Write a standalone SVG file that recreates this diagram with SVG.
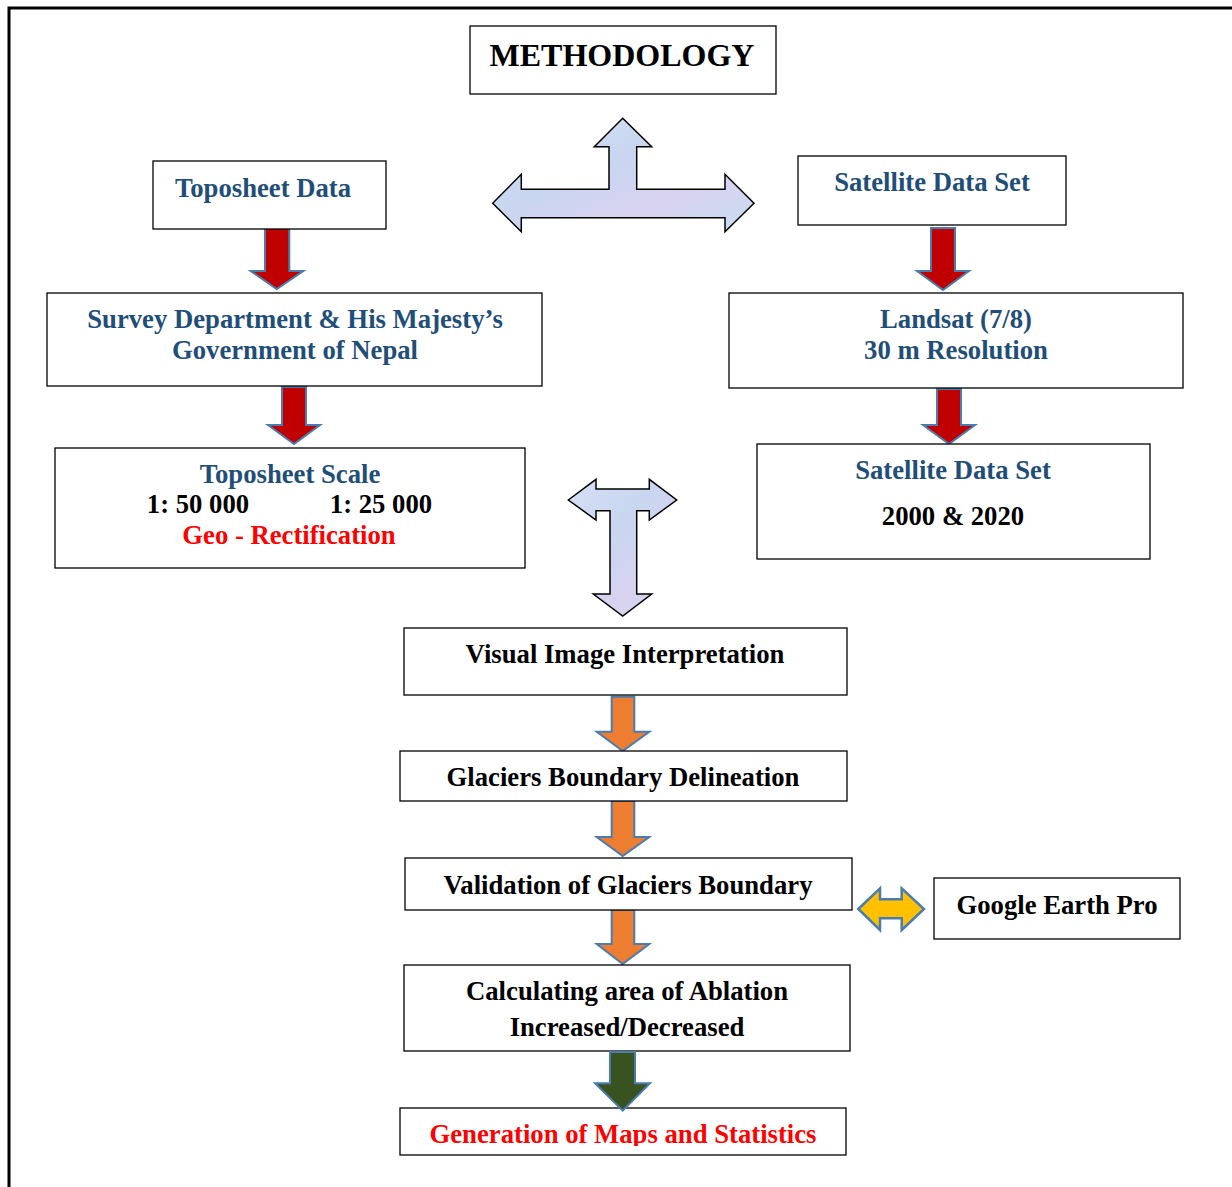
<svg xmlns="http://www.w3.org/2000/svg" width="1232" height="1187" viewBox="0 0 1232 1187">
<defs>
<style>
.box{fill:#fff;stroke:#000;stroke-width:1.3}
.t{font-family:"Liberation Serif","Times New Roman",serif;font-weight:bold;font-size:26.7px;text-anchor:middle}
.blue{fill:#1F4E79}
.blk{fill:#000}
.red{fill:#FF0000}
.la{stroke:#000;stroke-width:1.5;fill:url(#lg)}
.ra{fill:#C00000;stroke:#4A7CB0;stroke-width:2}
.oa{fill:#ED7D31;stroke:#4A7CB0;stroke-width:2}
.ya{fill:#FFC000;stroke:#4A7CB0;stroke-width:2.5}
.ga{fill:#3A5220;stroke:#4A7CB0;stroke-width:2}
</style>
<linearGradient id="lg" x1="0" y1="0" x2="1" y2="1">
<stop offset="0" stop-color="#D6E0F5"/>
<stop offset="0.4" stop-color="#C8D6F0"/>
<stop offset="0.7" stop-color="#D8D2F0"/>
<stop offset="1" stop-color="#C6DDF2"/>
</linearGradient>
<clipPath id="genclip"><rect x="400" y="1108" width="446" height="38"/></clipPath>
</defs>
<rect width="1232" height="1187" fill="#fff"/>
<path d="M9 1187 V8 H1232" fill="none" stroke="#000" stroke-width="3"/>

<g id="connectors">
<path class="la" d="M622.7 118.3 L651.7 146.7 L636.7 146.7 L636.7 189.3 L725 189.3 L725 174.3 L754 203.3 L725 231.7 L725 217.7 L521.3 217.7 L521.3 231.7 L492.7 203.3 L521.3 174.3 L521.3 189.3 L609 189.3 L609 146.7 L594.3 146.7 Z"/>
<path class="la" d="M568.3 500 L596 479.3 L596 489 L649.3 489 L649.3 479.3 L676.7 500 L649.3 520 L649.3 510.7 L636.7 510.7 L636.7 594 L651.7 594 L622.7 616 L593.3 594 L610 594 L610 510.7 L596 510.7 L596 520 Z"/>
<path class="ra" d="M265 228.3 L289.3 228.3 L289.3 271 L303.3 271 L276.7 289 L250.7 271 L265 271 Z"/>
<path class="ra" d="M282 387 L306 387 L306 425 L320 425 L294 444 L268 425 L282 425 Z"/>
<path class="ra" d="M931 228 L955 228 L955 271 L969 271 L943 290 L917 271 L931 271 Z"/>
<path class="ra" d="M937 389 L961 389 L961 425 L975 425 L949 444 L923 425 L937 425 Z"/>
<path class="oa" d="M611.7 696.7 L634.3 696.7 L634.3 731.7 L649.3 731.7 L622.7 751 L596.7 731.7 L611.7 731.7 Z"/>
<path class="oa" d="M611.7 801 L634.3 801 L634.3 837 L649.3 837 L622.7 856 L596.7 837 L611.7 837 Z"/>
<path class="oa" d="M611.7 910 L634.3 910 L634.3 944 L649.3 944 L622.7 964 L596.7 944 L611.7 944 Z"/>
<path class="ya" d="M858.3 909 L880 888.3 L880 899.3 L901.7 899.3 L901.7 888.3 L924 909 L901.7 930 L901.7 918.3 L880 918.3 L880 930 Z"/>
</g>

<g id="methodology"><rect class="box" x="470" y="26" width="306" height="68"/><text class="t blk" x="622" y="66" style="font-size:32px">METHODOLOGY</text></g>
<g id="toposheet-data"><rect class="box" x="153" y="161" width="233" height="68"/><text class="t blue" x="263" y="197">Toposheet Data</text></g>
<g id="satellite-data-set"><rect class="box" x="798" y="156" width="268" height="69"/><text class="t blue" x="932" y="191">Satellite Data Set</text></g>
<g id="survey"><rect class="box" x="47" y="293" width="495" height="93"/><text class="t blue" x="295" y="328">Survey Department &amp; His Majesty’s</text><text class="t blue" x="295" y="359">Government of Nepal</text></g>
<g id="landsat"><rect class="box" x="729" y="293" width="454" height="95"/><text class="t blue" x="956" y="328">Landsat (7/8)</text><text class="t blue" x="956" y="359">30 m Resolution</text></g>
<g id="toposheet-scale"><rect class="box" x="55" y="448" width="470" height="120"/><text class="t blue" x="290" y="483">Toposheet Scale</text><text class="t blk" x="198" y="513">1: 50 000</text><text class="t blk" x="381" y="513">1: 25 000</text><text class="t red" x="289" y="544">Geo - Rectification</text></g>
<g id="satellite-years"><rect class="box" x="757" y="444" width="393" height="115"/><text class="t blue" x="953" y="479">Satellite Data Set</text><text class="t blk" x="953" y="525">2000 &amp; 2020</text></g>
<g id="visual"><rect class="box" x="404" y="628" width="443" height="67"/><text class="t blk" x="625" y="663">Visual Image Interpretation</text></g>
<g id="delineation"><rect class="box" x="400" y="751" width="447" height="50"/><text class="t blk" x="623" y="786">Glaciers Boundary Delineation</text></g>
<g id="validation"><rect class="box" x="405" y="858" width="447" height="52"/><text class="t blk" x="628" y="894">Validation of Glaciers Boundary</text></g>
<g id="google-earth"><rect class="box" x="934" y="878" width="246" height="61"/><text class="t blk" x="1057" y="914">Google Earth Pro</text></g>
<g id="calculating"><rect class="box" x="404" y="965" width="446" height="86"/><text class="t blk" x="627" y="1000">Calculating area of Ablation</text><text class="t blk" x="627" y="1036">Increased/Decreased</text></g>
<g id="generation"><rect class="box" x="400" y="1108" width="446" height="47"/><text class="t red" x="623" y="1143" clip-path="url(#genclip)">Generation of Maps and Statistics</text></g>
<g id="connectors-top">
<path class="ga" d="M610 1052 L635 1052 L635 1083.3 L650 1083.3 L622.7 1110.7 L595 1083.3 L610 1083.3 Z"/>
</g>
</svg>
